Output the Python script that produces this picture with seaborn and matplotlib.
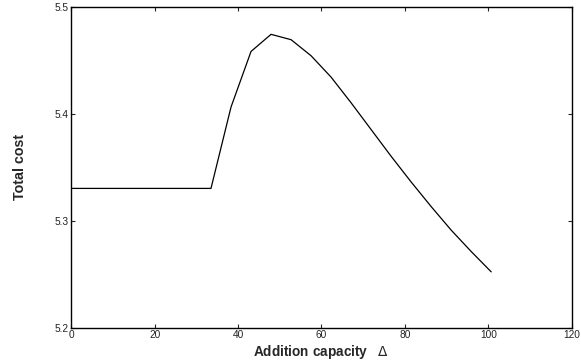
import numpy as np
import pandas as pd
import matplotlib
matplotlib.use("Agg")
import matplotlib.pyplot as plt
import seaborn as sns

# values
capacity = [0, 33.5, 38.3, 43.1, 47.9, 52.7, 57.5, 62.3, 67.1, 71.9,
            76.7, 81.5, 86.3, 91.1, 95.9, 100.7]
total_cost = [5.330, 5.330, 5.406, 5.458, 5.474, 5.469, 5.454, 5.434, 5.410,
              5.385, 5.360, 5.336, 5.313, 5.291, 5.271, 5.252]
x_ticks = [0, 20, 40, 60, 80, 100, 120]
y_ticks = [5.2, 5.3, 5.4, 5.5]

sns.set_style("ticks")
plt.rcParams['font.family'] = ['Liberation Sans', 'DejaVu Sans']
plt.rcParams['mathtext.fontset'] = 'dejavusans'

df = pd.DataFrame({"capacity": capacity, "cost": total_cost})

fig = plt.figure(figsize=(5.81, 3.62), dpi=100)
ax = fig.add_axes([0.1227, 0.0953, 0.984 - 0.1227, 0.982 - 0.0953])
sns.lineplot(data=df, x="capacity", y="cost", color="black", linewidth=0.9, ax=ax)

ax.set_xlim(0, 120)
ax.set_ylim(5.2, 5.5)
ax.set_xticks(x_ticks)
ax.set_yticks(y_ticks)
ax.set_xticklabels([str(t) for t in x_ticks])
ax.set_yticklabels([f"{t:.1f}" for t in y_ticks])
ax.tick_params(direction="in", length=3, width=0.8, labelsize=7.3,
               top=True, right=True, pad=2, labelcolor="#222222")
for s in ax.spines.values():
    s.set_visible(True)
    s.set_linewidth(1.0)
    s.set_color("black")

ax.set_xlabel("Addition capacity   $\\mathrm{\\Delta}$", fontsize=9.8, fontweight="bold", labelpad=2)
ax.set_ylabel("Total cost", fontsize=10.3, fontweight="bold", labelpad=20)

plt.savefig("out.png", dpi=100)
